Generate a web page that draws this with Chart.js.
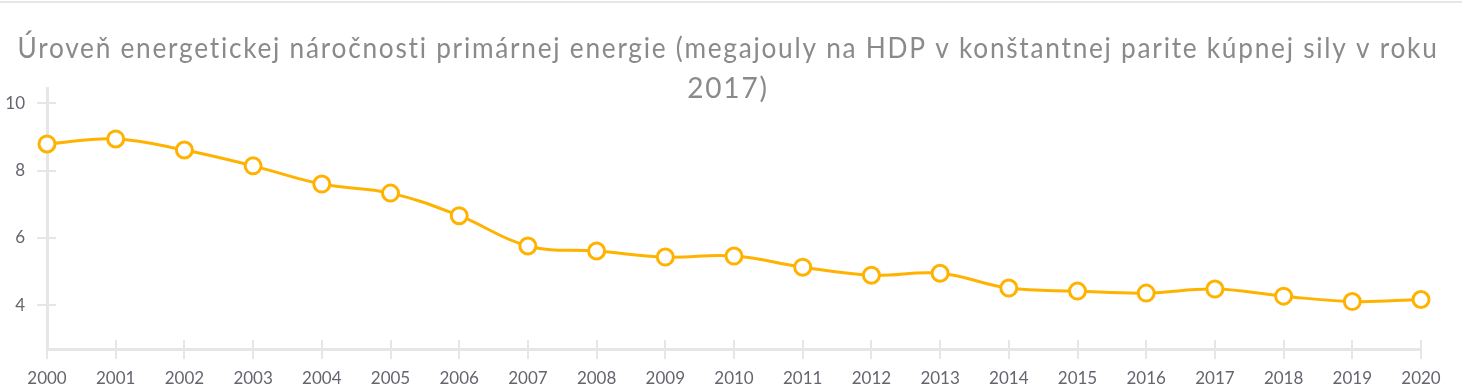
<!DOCTYPE html>
<html>
<head>
<meta charset="utf-8">
<script src="https://cdn.jsdelivr.net/npm/chart.js@4"></script>
<style>
  html, body { margin: 0; padding: 0; background: #fff; }
  #wrap { width: 1462px; height: 387px; margin-top: 1px; border-top: 2px solid #e6e6e6; position: relative; }
</style>
</head>
<body>
<div id="wrap"><canvas id="chart" width="1462" height="387"></canvas></div>
<script>
// Chart data
const years = ['2000', '2001', '2002', '2003', '2004', '2005', '2006', '2007', '2008', '2009', '2010',
    '2011', '2012', '2013', '2014', '2015', '2016', '2017', '2018', '2019', '2020'];
const intensity = [8.79, 8.94, 8.61, 8.14, 7.60, 7.33, 6.66, 5.76, 5.61, 5.43, 5.46,
    5.13, 4.89, 4.95, 4.51, 4.42, 4.36, 4.48, 4.27, 4.11, 4.17];
const yTicks = [4, 6, 8, 10];
const titleLines = [
    'Úroveň energetickej náročnosti primárnej energie (megajouly na HDP v konštantnej parite kúpnej sily v roku',
    '2017)'
];

const axisGrey = '#e6e6e6';

// small ticks that also reach into the plot area
const innerTicks = {
    id: 'innerTicks',
    afterDatasetsDraw(chart) {
        const { ctx, chartArea, scales } = chart;
        ctx.save();
        ctx.strokeStyle = axisGrey;
        ctx.lineWidth = 2;
        ctx.beginPath();
        scales.x.ticks.forEach((t, i) => {
            const x = Math.round(scales.x.getPixelForTick(i));
            ctx.moveTo(x, chartArea.bottom);
            ctx.lineTo(x, chartArea.bottom - 9);
        });
        scales.y.ticks.forEach((t, i) => {
            const y = Math.round(scales.y.getPixelForTick(i));
            ctx.moveTo(chartArea.left, y);
            ctx.lineTo(chartArea.left + 9, y);
        });
        ctx.stroke();
        ctx.restore();
    }
};

// the title in the original is spaced out a little and centred on the whole canvas
const spacedTitle = {
    id: 'spacedTitle',
    beforeDraw(chart) {
        const tb = chart.titleBlock;
        if (!tb || tb._spaced) return;
        const orig = tb.draw;
        tb.draw = function () {
            const ctx = chart.ctx;
            ctx.save();
            ctx.letterSpacing = '1.85px';
            ctx.translate(chart.width / 2 - (this.left + this.right) / 2 - 3, 0);
            orig.apply(this, arguments);
            ctx.restore();
        };
        tb._spaced = true;
    }
};

new Chart(document.getElementById('chart'), {
    type: 'line',
    data: {
        labels: years,
        datasets: [{
            data: intensity,
            borderColor: '#ffb300',
            borderWidth: 3,
            backgroundColor: '#ffffff',
            pointBackgroundColor: '#ffffff',
            pointBorderColor: '#ffb300',
            pointBorderWidth: 3,
            pointRadius: 8,
            tension: 0.4,
            clip: false
        }]
    },
    options: {
        responsive: false,
        animation: false,
        layout: { padding: { left: 0, right: 41, top: 0, bottom: 0 } },
        plugins: {
            legend: { display: false },
            tooltip: { enabled: false },
            title: {
                display: true,
                text: titleLines,
                color: '#8a8a8a',
                font: { family: 'Lato', size: 28, weight: 'normal', lineHeight: 1.43 },
                padding: { top: 26, bottom: -21 }
            }
        },
        scales: {
            x: {
                offset: false,
                grid: { drawOnChartArea: false, color: axisGrey, lineWidth: 2, tickLength: 10 },
                border: { color: axisGrey, width: 3 },
                ticks: { color: '#66656f', font: { family: 'Lato', size: 17 }, padding: 9, maxRotation: 0, autoSkip: false },
                afterFit: s => { s.height = 41; }
            },
            y: {
                min: 2.7,
                max: 10.45,
                afterBuildTicks: s => { s.ticks = yTicks.map(v => ({ value: v })); },
                grid: { drawOnChartArea: false, color: axisGrey, lineWidth: 2, tickLength: 10 },
                border: { color: axisGrey, width: 3 },
                ticks: { color: '#66656f', font: { family: 'Lato', size: 17 }, padding: 12 },
                afterFit: s => { s.width = 47; }
            }
        }
    },
    plugins: [innerTicks, spacedTitle]
});
</script>
</body>
</html>
